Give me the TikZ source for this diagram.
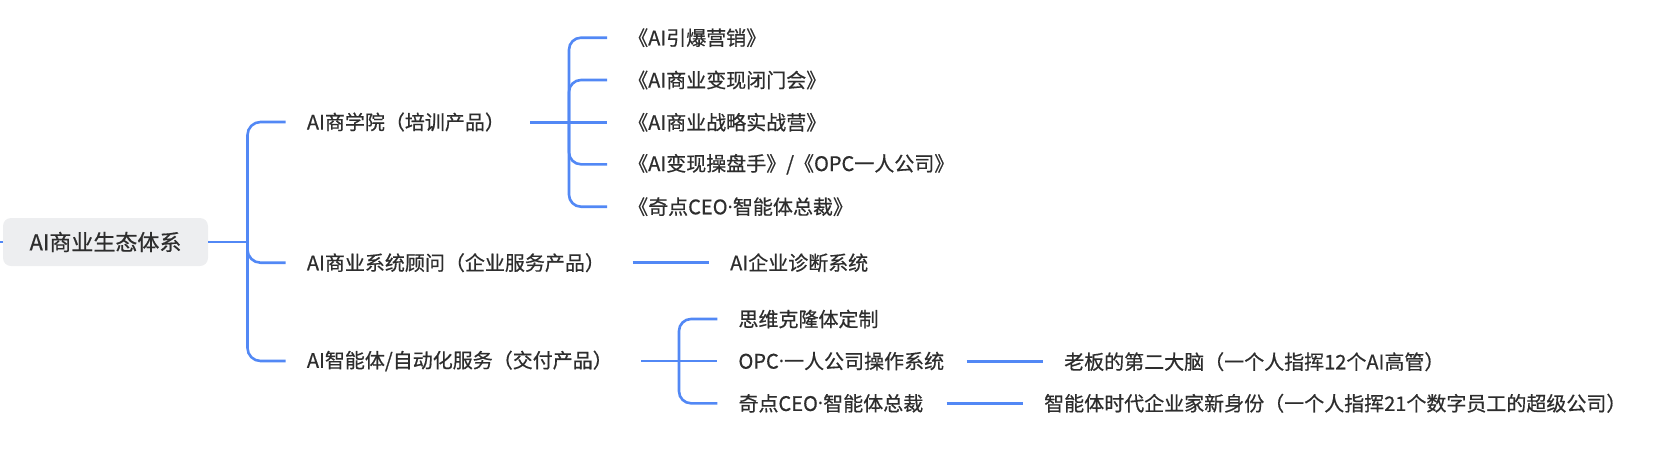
\documentclass[tikz,border=0pt]{standalone}
\usepackage{fontspec}
\setmainfont{Noto Sans CJK SC}[FakeBold=0.6]
\newfontfamily\latinfont{Noto Sans}
\newcommand{\mdot}{{\latinfont ·}}
\usetikzlibrary{calc}
\definecolor{lineblue}{RGB}{82,136,245}
\definecolor{txt}{RGB}{45,45,45}
\definecolor{rootfill}{RGB}{237,238,240}
\begin{document}
\begin{tikzpicture}[x=1pt,y=-1pt,
  conn/.style={draw=lineblue, line width=2.6pt, rounded corners=13pt},
  subconn/.style={draw=lineblue, line width=2.6pt, rounded corners=12pt},
  lbl/.style={anchor=west, inner sep=0pt, text=txt, font=\fontsize{20}{24}\selectfont},
  rootbox/.style={fill=rootfill, rounded corners=8pt, text=txt, font=\fontsize{22}{26}\selectfont,
    minimum width=205pt, minimum height=48pt, inner sep=0pt}]
\useasboundingbox (0,0) rectangle (1664,450);

% root
\node[rootbox] (root) at (105.5,242) {AI商业生态体系};
\coordinate (lt) at (0,242);
\draw[conn] (lt) -- (root.west);

% level 1
\node[lbl] (l1) at (306.7,122) {AI商学院（培训产品）};
\node[lbl] (l2) at (306.7,262.7) {AI商业系统顾问（企业服务产品）};
\node[lbl] (l3) at (306.7,361) {AI智能体/自动化服务（交付产品）};

\coordinate (t) at (247.5,242);
\draw[conn] (root.east) -- (t);
\draw[conn] ($(l1.west)+(-21,0)$) -- (t|-l1) -- (t|-l3) -- ($(l3.west)+(-21,0)$);
\draw[conn] (t) -- (t|-l2) -- ($(l2.west)+(-21,0)$);

% group 1
\node[lbl] (c1) at (628,37.7) {《AI引爆营销》};
\node[lbl] (c2) at (628,80) {《AI商业变现闭门会》};
\node[lbl] (c3) at (628,122.3) {《AI商业战略实战营》};
\node[lbl] (c4) at (628,164.3) {《AI变现操盘手》/《OPC一人公司》};
\node[lbl] (c5) at (628,206.7) {《奇点CEO\mdot 智能体总裁》};

\coordinate (l1o) at (530,122.3);
\coordinate (s1) at (569,122.3);
\draw[subconn] (l1o) -- ($(c3.west)+(-21,0)$);
\draw[subconn] ($(c1.west)+(-21,0)$) -- (s1|-c1) -- (s1|-c5) -- ($(c5.west)+(-21,0)$);
\draw[subconn] (s1) -- (s1|-c2) -- ($(c2.west)+(-21,0)$);
\draw[subconn] (s1) -- (s1|-c4) -- ($(c4.west)+(-21,0)$);

% group 2
\node[lbl] (d1) at (730,262.7) {AI企业诊断系统};
\coordinate (l2o) at (632.7,262.7);
\draw[subconn] (l2o) -- ($(d1.west)+(-21,0)$);

% group 3
\node[lbl] (e1) at (738.3,319) {思维克隆体定制};
\node[lbl] (e2) at (738.3,361) {OPC\mdot 一人公司操作系统};
\node[lbl] (e3) at (738.3,403.3) {奇点CEO\mdot 智能体总裁};

\coordinate (l3o) at (641,361);
\coordinate (s3) at (679,361);
\draw[subconn] (l3o) -- ($(e2.west)+(-21,0)$);
\draw[subconn] ($(e1.west)+(-21,0)$) -- (s3|-e1) -- (s3|-e3) -- ($(e3.west)+(-21,0)$);

% level 3
\node[lbl] (f1) at (1064,361.7) {老板的第二大脑（一个人指挥12个AI高管）};
\node[lbl] (f2) at (1044,403.3) {智能体时代企业家新身份（一个人指挥21个数字员工的超级公司）};
\coordinate (e2o) at (966.7,361.7);
\coordinate (e3o) at (946.7,403.3);
\draw[subconn] (e2o) -- ($(f1.west)+(-21,0)$);
\draw[subconn] (e3o) -- ($(f2.west)+(-21,0)$);
\end{tikzpicture}
\end{document}
